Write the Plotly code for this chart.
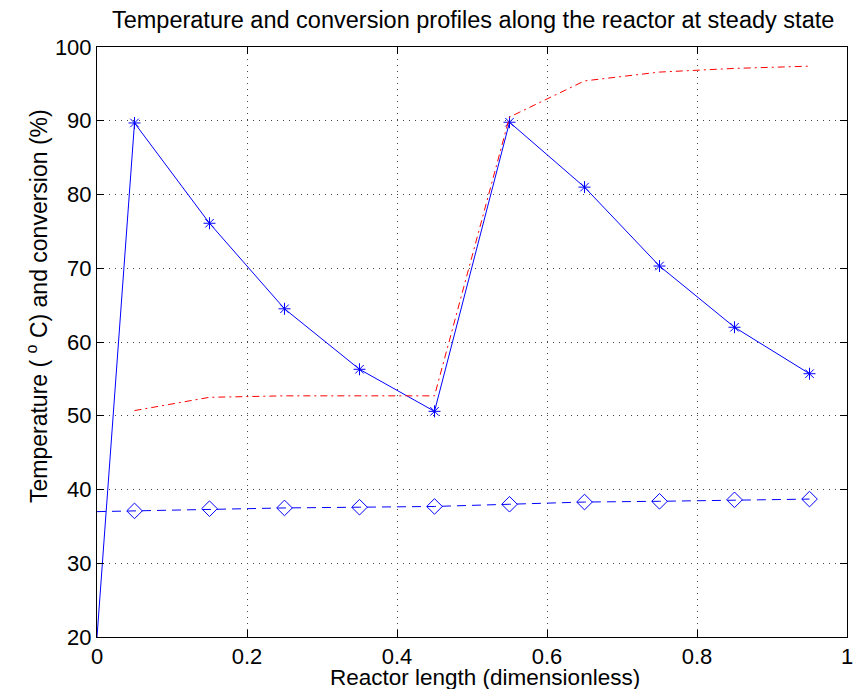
# Temperature and conversion profiles along the reactor (steady state)

import plotly.graph_objects as go

# Reactor positions (dimensionless length)
positions = [0.0, 0.05, 0.15, 0.25, 0.35, 0.45, 0.55, 0.65, 0.75, 0.85, 0.95]

# Reactor temperature, degC (solid blue with asterisks)
reactor_temp = [20.0, 89.7, 76.1, 64.5, 56.3, 50.6, 89.8, 81.0, 70.3, 62.0, 55.7]

# Conversion, % (red dash-dot), starts at first cell
conv_positions = [0.05, 0.15, 0.25, 0.35, 0.45, 0.55, 0.65, 0.75, 0.85, 0.95]
conversion = [50.7, 52.5, 52.7, 52.7, 52.7, 90.5, 95.4, 96.6, 97.1, 97.4]

# Coolant temperature, degC (dashed blue with diamonds)
coolant_temp = [37.0, 37.1, 37.4, 37.5, 37.6, 37.7, 38.0, 38.3, 38.4, 38.6, 38.7]

x_ticks = [0, 0.2, 0.4, 0.6, 0.8, 1]
x_tick_labels = ["0", "0.2", "0.4", "0.6", "0.8", "1"]
y_ticks = [20, 30, 40, 50, 60, 70, 80, 90, 100]

BLUE = "#0000ff"
RED = "#ff0000"
FONT = "Liberation Sans, Arial, Helvetica, sans-serif"

fig = go.Figure()

# Reactor temperature: line through all points, markers only after the inlet
fig.add_trace(go.Scatter(
    x=positions, y=reactor_temp, mode="lines",
    line=dict(color=BLUE, width=1), showlegend=False,
))
fig.add_trace(go.Scatter(
    x=positions[1:], y=reactor_temp[1:], mode="markers",
    marker=dict(symbol="asterisk-open", size=10, color=BLUE,
                line=dict(color=BLUE, width=1)),
    showlegend=False,
))

# Conversion
fig.add_trace(go.Scatter(
    x=conv_positions, y=conversion, mode="lines",
    line=dict(color=RED, width=1, dash="7px,4px,2px,4px"),
    showlegend=False,
))

# Coolant temperature
fig.add_trace(go.Scatter(
    x=positions, y=coolant_temp, mode="lines",
    line=dict(color=BLUE, width=1, dash="9px,6px"),
    showlegend=False,
))
fig.add_trace(go.Scatter(
    x=positions[1:], y=coolant_temp[1:], mode="markers",
    marker=dict(symbol="diamond-open", size=12, color=BLUE,
                line=dict(color=BLUE, width=1)),
    showlegend=False,
))

axis_style = dict(
    showline=True, linecolor="black", linewidth=1, mirror="ticks",
    ticks="inside", ticklen=7, tickcolor="black", tickwidth=1,
    showgrid=True, gridcolor="#444444", gridwidth=1, griddash="1px,5px",
    zeroline=False, automargin=False,
    tickfont=dict(size=22, color="black", family=FONT),
)

fig.update_xaxes(range=[0, 1], tickvals=x_ticks, ticktext=x_tick_labels, **axis_style)
fig.update_yaxes(range=[20, 100], tickvals=y_ticks, **axis_style)

# Axis titles placed as annotations to match the tight MATLAB layout
fig.add_annotation(
    text="Reactor length (dimensionless)", xref="paper", yref="paper",
    x=0.517, y=-0.069, xanchor="center", yanchor="middle", showarrow=False,
    font=dict(size=22.5, color="black", family=FONT),
)
fig.add_annotation(
    text="Temperature ( <sup>o</sup> C) and conversion (%)", xref="paper", yref="paper",
    x=-0.08, y=0.561, xanchor="center", yanchor="middle", textangle=-90,
    showarrow=False, font=dict(size=23, color="black", family=FONT),
)

# the page body adds an 8px offset, so the figure is 8px smaller than the window
fig.update_layout(
    width=855, height=681,
    margin=dict(l=89, r=16, t=39, b=52),
    plot_bgcolor="white", paper_bgcolor="white",
    title=dict(
        text="Temperature and conversion profiles along the reactor at steady state",
        x=0.544, xanchor="center", y=0.982, yanchor="middle",
        font=dict(size=23.5, color="black", family=FONT),
    ),
)

fig.write_html("out.html")
